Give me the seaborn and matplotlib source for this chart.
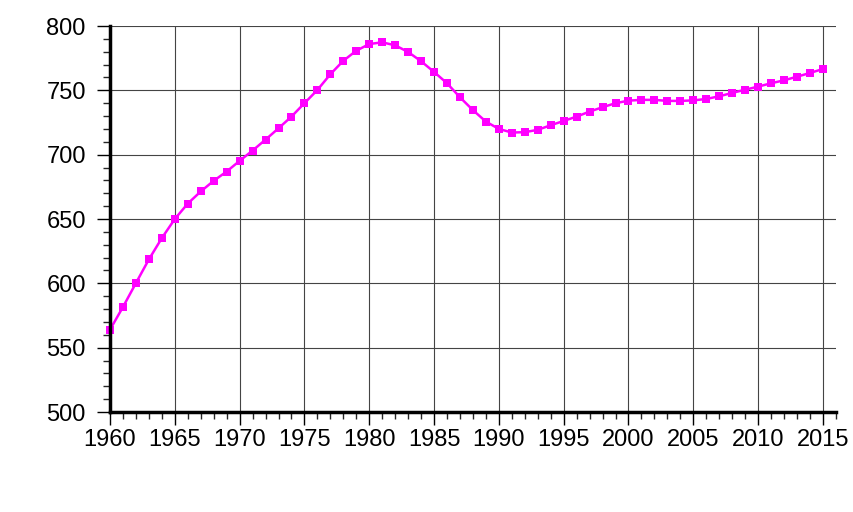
import matplotlib
matplotlib.use("Agg")
import matplotlib.pyplot as plt
from matplotlib.ticker import MultipleLocator
import seaborn as sns
import pandas as pd

# values
years = list(range(1960, 2016))
values = [564, 581.6, 600.2, 618.6, 635.2, 650, 662, 671.4, 679.7, 686.9,
          695.2, 703.2, 711.7, 720.5, 729.6, 740, 750.3, 762.5, 773, 780.8,
          786, 787.3, 785, 779.8, 772.6, 764.3, 755.5, 744.6, 734.6, 725.7,
          720, 717.2, 717.5, 719.3, 722.9, 726.2, 729.6, 733.5, 736.9, 740,
          742, 742.6, 742.6, 741.8, 741.8, 742.2, 743.3, 745.4, 748, 750.5,
          752.9, 755.5, 757.8, 760.6, 763.5, 766.6]

df = pd.DataFrame({"year": years, "value": values})

sns.set_style("white")
plt.rcParams['font.family'] = ['Liberation Sans', 'DejaVu Sans']

fig = plt.figure(figsize=(8.54, 5.12), dpi=100)
ax = fig.add_axes([0.1288, 0.1953, 0.850, 0.7539])

sns.lineplot(data=df, x="year", y="value", ax=ax, color="#ff00ff",
             marker="s", markersize=6, markeredgewidth=0, linewidth=1.8)
for ln in ax.lines:
    ln.set_clip_on(False)

ax.set_xlim(1960, 2016)
ax.set_ylim(500, 800)
ax.xaxis.set_major_locator(MultipleLocator(5))
ax.xaxis.set_minor_locator(MultipleLocator(1))
ax.yaxis.set_major_locator(MultipleLocator(50))
ax.yaxis.set_minor_locator(MultipleLocator(10))
ax.grid(True, which="major", color="#444444", linewidth=0.8)
ax.set_axisbelow(True)

for s in ["top", "right"]:
    ax.spines[s].set_visible(False)
for s in ["left", "bottom"]:
    ax.spines[s].set_linewidth(2.5)
    ax.spines[s].set_color("black")

ax.tick_params(axis="both", which="major", direction="out", length=9.4,
               width=1, labelsize=17, colors="black", left=True, bottom=True)
ax.tick_params(axis="both", which="minor", direction="out", length=5,
               width=1, left=True, bottom=True)
ax.tick_params(axis="y", which="major", pad=8)
ax.tick_params(axis="x", which="major", pad=3)

ax.set_xlabel("")
ax.set_ylabel("")

fig.savefig("out.png", dpi=100)
